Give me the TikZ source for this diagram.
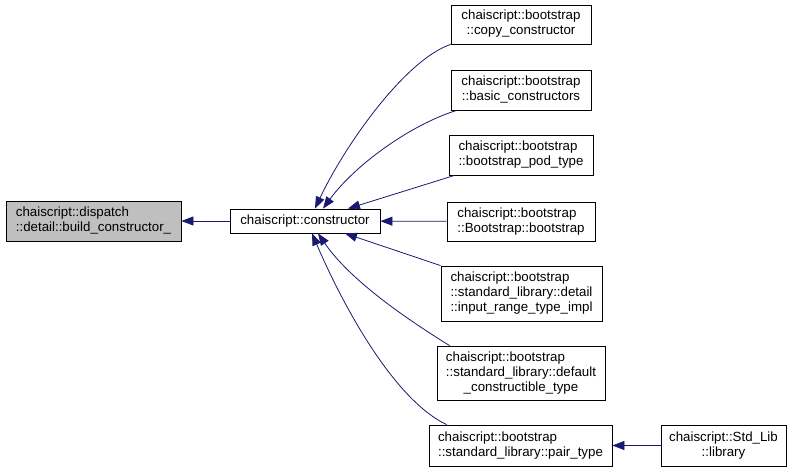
\documentclass[tikz,border=0pt]{standalone}
\usepackage{fontspec}
\setmainfont{Liberation Sans}
\usetikzlibrary{arrows.meta}
\definecolor{edgeblue}{RGB}{25,25,112}
\definecolor{hlgray}{RGB}{191,191,191}
\newcommand{\clsname}[1]{\begin{tabular}{@{}l@{}}#1\end{tabular}}
\newcommand{\lastline}[1]{\multicolumn{1}{@{}c@{}}{#1}}

\begin{document}
\begin{tikzpicture}[
    x=1pt, y=-1pt,
    cls/.style={draw, line width=0.8pt, inner sep=0pt, font=\fontsize{13.3}{15}\selectfont},
    dep/.style={-{Triangle[length=12pt, width=9pt]}, edgeblue, line width=0.8pt}
]
\useasboundingbox (0,0) rectangle (797,471);

\node[cls, fill=hlgray, minimum width=175pt, minimum height=40pt] (build) at (93.5,221) {\clsname{chaiscript::dispatch\\::detail::build\_constructor\_}};
\node[cls, minimum width=150pt, minimum height=24pt] (ctor) at (305,221) {chaiscript::constructor};

\node[cls, minimum width=140pt, minimum height=39pt] (copy) at (521,24.5) {\clsname{chaiscript::bootstrap\\\lastline{::copy\_constructor}}};
\node[cls, minimum width=140pt, minimum height=40pt] (basic) at (521,90) {\clsname{chaiscript::bootstrap\\\lastline{::basic\_constructors}}};
\node[cls, minimum width=144pt, minimum height=40pt] (pod) at (521,155) {\clsname{chaiscript::bootstrap\\::bootstrap\_pod\_type}};
\node[cls, minimum width=148pt, minimum height=39pt] (boot) at (521,221.5) {\clsname{chaiscript::bootstrap\\::Bootstrap::bootstrap}};
\node[cls, minimum width=161pt, minimum height=55pt] (input) at (521.5,293.5) {\clsname{chaiscript::bootstrap\\::standard\_library::detail\\\lastline{::input\_range\_type\_impl}}};
\node[cls, minimum width=168pt, minimum height=54pt] (defc) at (521,373) {\clsname{chaiscript::bootstrap\\::standard\_library::default\\\lastline{\_constructible\_type}}};
\node[cls, minimum width=183pt, minimum height=41pt] (pair) at (520.5,445.5) {\clsname{chaiscript::bootstrap\\::standard\_library::pair\_type}};
\node[cls, minimum width=125pt, minimum height=41pt] (lib) at (723.5,445.5) {\clsname{chaiscript::Std\_Lib\\\lastline{::library}}};

% edges into the constructor
\draw[dep] (ctor) -- (build);
\draw[dep] (copy.south west) .. controls (405,60) and (345,145) .. ([xshift=10pt]ctor.north);
\draw[dep] ([xshift=6pt]basic.south west) .. controls (410,125) and (355,165) .. ([xshift=18pt]ctor.north);
\draw[dep] ([xshift=6pt]pod.south west) -- ([xshift=43pt]ctor.north);
\draw[dep] (boot) -- (ctor);
\draw[dep] (input.north west) -- ([xshift=40pt]ctor.south);
\draw[dep] ([xshift=13pt]defc.north west) .. controls (405,318) and (350,280) .. ([xshift=13pt]ctor.south);
\draw[dep] ([xshift=18pt]pair.north west) .. controls (395,400) and (345,310) .. ([xshift=7pt]ctor.south);
\draw[dep] (lib) -- (pair);
\end{tikzpicture}
\end{document}
